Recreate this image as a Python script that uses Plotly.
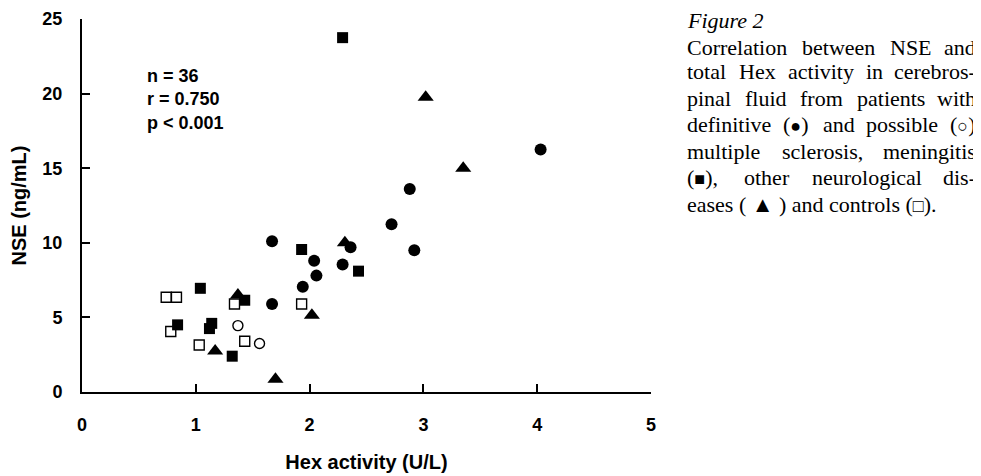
import plotly.graph_objects as go

# ---------------- data ----------------
dms_x = [1.67, 2.04, 2.06, 1.94, 1.67, 2.29, 2.36, 2.92, 2.72, 4.03, 2.88]
dms_y = [10.1, 8.8, 7.8, 7.05, 5.9, 8.55, 9.7, 9.5, 11.25, 16.25, 13.6]
pms_x = [1.37, 1.56]
pms_y = [4.45, 3.25]
men_x = [2.29, 1.93, 2.43, 1.04, 1.43, 0.84, 1.14, 1.12, 1.32]
men_y = [23.75, 9.55, 8.1, 6.95, 6.15, 4.5, 4.6, 4.25, 2.4]
ond_x = [3.35, 3.02, 2.31, 2.02, 1.37, 1.17, 1.70]
ond_y = [15.0, 19.75, 10.0, 5.15, 6.5, 2.75, 0.85]
ctl_x = [0.74, 0.83, 0.78, 1.34, 1.93, 1.03, 1.43]
ctl_y = [6.35, 6.35, 4.05, 5.9, 5.9, 3.15, 3.4]

x_ticks = [0, 1, 2, 3, 4, 5]
y_ticks = [0, 5, 10, 15, 20, 25]
x_title = "Hex activity (U/L)"
y_title = "NSE (ng/mL)"
stat_n = 36
stat_r = "0.750"
stat_p = "0.001"

caption_title = "Figure 2"
caption_lines = [
    "Correlation between NSE and",
    "total Hex activity in cerebros-",
    "pinal fluid from patients with",
    "definitive (●) and possible (○)",
    "multiple sclerosis, meningitis",
    "(■), other neurological dis-",
    "eases ( ▲ ) and controls (□).",
]

# ---------------- figure ----------------
fig = go.Figure()
fig.add_trace(go.Scatter(x=ctl_x, y=ctl_y, mode="markers", name="controls",
                         marker=dict(symbol="square", size=10, color="white",
                                     line=dict(color="black", width=1.4))))
fig.add_trace(go.Scatter(x=pms_x, y=pms_y, mode="markers", name="possible MS",
                         marker=dict(symbol="circle", size=10, color="white",
                                     line=dict(color="black", width=1.4))))
fig.add_trace(go.Scatter(x=ond_x, y=ond_y, mode="markers", name="other neurological diseases",
                         marker=dict(symbol="triangle-up", size=14, color="black",
                                     line=dict(width=0))))
fig.add_trace(go.Scatter(x=men_x, y=men_y, mode="markers", name="meningitis",
                         marker=dict(symbol="square", size=11, color="black",
                                     line=dict(width=0))))
fig.add_trace(go.Scatter(x=dms_x, y=dms_y, mode="markers", name="definitive MS",
                         marker=dict(symbol="circle", size=12, color="black",
                                     line=dict(width=0))))

# the page body has an 8px margin: screen coords = figure coords + 8
OFF = 8
W_FIG, H_FIG = 981 - OFF, 476 - OFF
L, R, T, B = 82 - OFF, 651 - OFF, 19 - OFF, 392 - OFF

axis_common = dict(showline=True, linewidth=2, linecolor="black", ticks="inside",
                   ticklen=8, tickwidth=2, tickcolor="black", showgrid=False,
                   zeroline=False, tickfont=dict(size=18, weight="bold", color="black"))

fig.update_layout(
    width=W_FIG, height=H_FIG,
    margin=dict(l=L, r=W_FIG - R, t=T, b=H_FIG - B, autoexpand=False),
    plot_bgcolor="white", paper_bgcolor="white", showlegend=False,
    font=dict(family="Liberation Sans, Arial, sans-serif", color="black"),
    xaxis=dict(range=[0, 5], tickvals=x_ticks, ticklabelstandoff=15,
               title=dict(text=x_title, font=dict(size=20, weight="bold"), standoff=21),
               **axis_common),
    yaxis=dict(range=[0, 25], tickvals=y_ticks, ticklabelstandoff=14,
               title=dict(text=y_title, font=dict(size=20, weight="bold"), standoff=12),
               **axis_common),
)


def px2paper(px, py):
    """screen pixel -> paper coords"""
    fx, fy = px - OFF, py - OFF
    return (fx - L) / (R - L), (B - fy) / (B - T)


# statistics box
sx, sy = px2paper(145, 99.5)
fig.add_annotation(xref="paper", yref="paper", x=sx, y=sy, xanchor="left", yanchor="middle",
                   showarrow=False, align="left",
                   text=f"<b>n = {stat_n}<br>r = {stat_r}<br>p &lt; {stat_p}</b>",
                   font=dict(size=18, family="Liberation Sans, Arial, sans-serif"))

# caption (justified by placing words)
CAP_FS = 22
SYM_FS = 18
TW = {'a': 444, 'b': 500, 'c': 444, 'd': 500, 'e': 444, 'f': 333, 'g': 500, 'h': 500,
      'i': 278, 'j': 278, 'k': 500, 'l': 278, 'm': 778, 'n': 500, 'o': 500, 'p': 500,
      'q': 500, 'r': 333, 's': 389, 't': 278, 'u': 500, 'v': 500, 'w': 722, 'x': 500,
      'y': 500, 'z': 444, 'C': 667, 'E': 611, 'H': 722, 'N': 722, 'S': 556, 'F': 556,
      '(': 333, ')': 333, ',': 250, '-': 333, '.': 250, ' ': 250}
SYMS = "●○■□"


def word_width(w):
    tot = 0.0
    for c in w:
        if c in SYMS:
            tot += 0.77 * SYM_FS
        else:
            tot += TW.get(c, 500) * CAP_FS / 1000
    return tot


def markup(w):
    out = ""
    for c in w:
        if c in SYMS:
            out += f'<span style="font-size:{SYM_FS}px">{c}</span>'
        else:
            out += c
    return out


cap_font = dict(family="Liberation Serif, Times New Roman, serif", size=CAP_FS, color="black")
CAP_L, CAP_R = 686, 977
line_y = [47, 72, 98.5, 125, 151.5, 178, 204.5]

tx, ty = px2paper(CAP_L, 20)
fig.add_annotation(xref="paper", yref="paper", x=tx, y=ty, xanchor="left", yanchor="middle",
                   showarrow=False, borderpad=0, text=f"<i>{caption_title}</i>", font=cap_font)

for i, line in enumerate(caption_lines):
    py = line_y[i]
    if i == len(caption_lines) - 1:
        ax, ay = px2paper(CAP_L, py)
        fig.add_annotation(xref="paper", yref="paper", x=ax, y=ay, xanchor="left",
                           yanchor="middle", showarrow=False, borderpad=0,
                           text=markup(line), font=cap_font)
        continue
    words = line.split(" ")
    widths = [word_width(w) for w in words]
    gap = (CAP_R - CAP_L - sum(widths)) / (len(words) - 1)
    xpos = CAP_L
    for j, w in enumerate(words):
        if j == len(words) - 1:
            ax, ay = px2paper(CAP_R, py)
            anchor = "right"
        else:
            ax, ay = px2paper(xpos, py)
            anchor = "left"
        fig.add_annotation(xref="paper", yref="paper", x=ax, y=ay, xanchor=anchor,
                           yanchor="middle", showarrow=False, borderpad=0,
                           text=markup(w), font=cap_font)
        xpos += widths[j] + gap

fig.write_html("out.html")
